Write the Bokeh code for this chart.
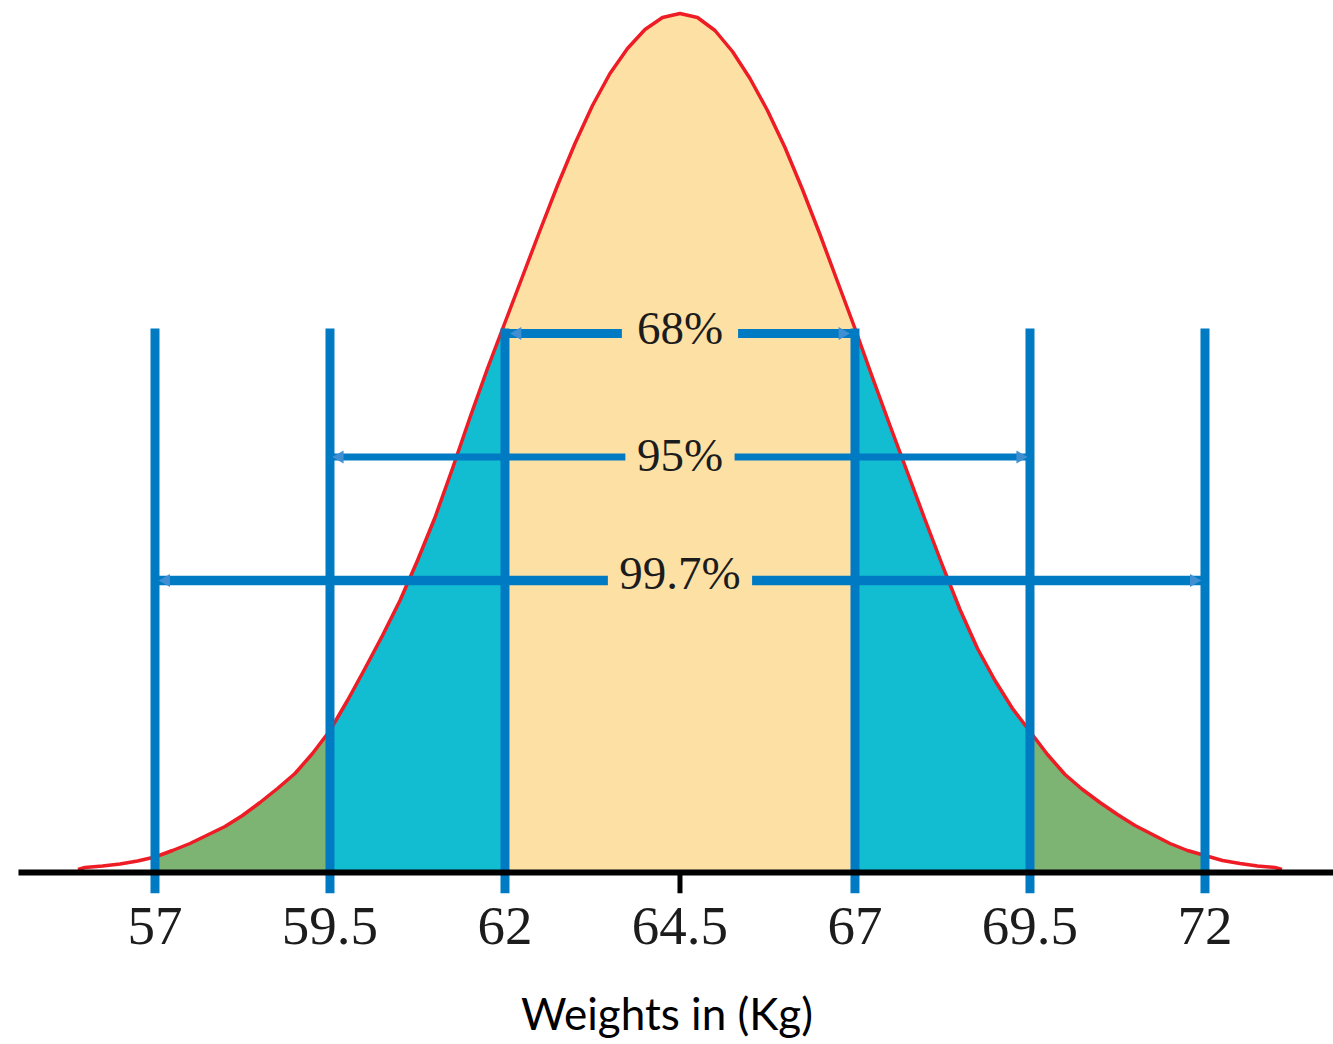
import numpy as np
from bokeh.plotting import figure
from bokeh.models import Range1d, FixedTicker
from bokeh.embed import file_html
from bokeh.resources import INLINE
from bokeh.core.properties import value

# ---------------- data ----------------
weight_kg = [55.9, 56.0, 56.25, 56.5, 56.75, 57.0, 57.25, 57.5, 57.75, 58.0, 58.25, 58.5, 58.75,
             59.0, 59.25, 59.5, 59.75, 60.0, 60.25, 60.5, 60.75, 61.0, 61.25, 61.5, 61.75,
             62.0, 62.25, 62.5, 62.75, 63.0, 63.25, 63.5, 63.75, 64.0, 64.25, 64.5,
             64.75, 65.0, 65.25, 65.5, 65.75, 66.0, 66.25, 66.5, 66.75, 67.0,
             67.25, 67.5, 67.75, 68.0, 68.25, 68.5, 68.75, 69.0, 69.25, 69.5, 69.75,
             70.0, 70.25, 70.5, 70.75, 71.0, 71.25, 71.5, 71.75, 72.0, 72.25, 72.5, 72.75,
             73.0, 73.1]
curve_height = [3, 5, 6.5, 8.5, 11.5, 15.5, 22, 29, 37.5, 46, 57, 70, 84,
                99, 119, 142, 172, 204, 237, 272, 312, 355, 404, 455, 504,
                550, 596, 642, 687, 729, 767, 799, 824, 843, 855, 859,
                855, 842, 821, 794, 762, 725, 683, 638, 591, 544,
                495, 447, 400, 353, 307, 263, 224, 192, 164, 141, 118,
                98, 83, 70, 58, 47, 38, 29, 22, 17, 12, 9, 6.5,
                5, 3]

sd_marks = [57, 59.5, 62, 67, 69.5, 72]
mean_weight = 64.5
tick_values = [57, 59.5, 62, 64.5, 67, 69.5, 72]
tick_labels = ["57", "59.5", "62", "64.5", "67", "69.5", "72"]

band_lo = [57, 59.5, 62, 67, 69.5]
band_hi = [59.5, 62, 67, 69.5, 72]
band_colors = ["#7DB474", "#13BDD1", "#FDE1A4", "#13BDD1", "#7DB474"]

interval_labels = ["68%", "95%", "99.7%"]
interval_lo = [62, 59.5, 57]
interval_hi = [67, 69.5, 72]

# ---------------- styling / layout constants ----------------
BLUE = "#007BC3"
RED = "#EE1C25"
arrow_level = [539, 415.5, 292]
arrow_width = [9, 7, 9.5]
label_gap = [0.83, 0.78, 1.03]
label_base = [545, 418, 300]
head_inset = [0.18, 0.14, 0.16]

p = figure(frame_width=1333, frame_height=893,
           x_range=Range1d(54.793, 73.836), y_range=Range1d(-21, 872),
           output_backend="svg", toolbar_location=None, y_axis_location=None,
           min_border=0, outline_line_color=None)
p.grid.visible = False
p.background_fill_color = "white"
p.border_fill_color = "white"

xs = np.array(weight_kg)
ys = np.array(curve_height)
for lo, hi, c in zip(band_lo, band_hi, band_colors):
    m = (xs >= lo - 1e-9) & (xs <= hi + 1e-9)
    p.varea(x=xs[m], y1=0, y2=ys[m], fill_color=c, fill_alpha=1.0)

p.line(weight_kg, curve_height, line_color=RED, line_width=3.5, line_join="round")

# vertical sd lines
p.segment(x0=sd_marks, y0=[-21] * len(sd_marks), x1=sd_marks, y1=[544] * len(sd_marks),
          line_color=BLUE, line_width=9)

# interval arrows
for i, lab in enumerate(interval_labels):
    lo, hi, yl = interval_lo[i], interval_hi[i], arrow_level[i]
    mid = (lo + hi) / 2
    p.segment(x0=[lo, mid + label_gap[i]], y0=[yl, yl],
              x1=[mid - label_gap[i], hi], y1=[yl, yl],
              line_color=BLUE, line_width=arrow_width[i])
    p.scatter(x=[lo + head_inset[i]], y=[yl], marker="triangle", size=13,
              angle=np.pi / 2, fill_color="#3F8FD2", line_color=None)
    p.scatter(x=[hi - head_inset[i]], y=[yl], marker="triangle", size=13,
              angle=-np.pi / 2, fill_color="#3F8FD2", line_color=None)
    p.text(x=[mid], y=[label_base[i]], text=[lab], text_font=value("Liberation Serif"),
           text_font_size="47px", text_align="center", text_baseline="alphabetic",
           text_color="#1c1c1c")

# baseline and centre tick
p.segment(x0=[55.05], y0=[0], x1=[73.9], y1=[0], line_color="black", line_width=6)
p.segment(x0=[mean_weight], y0=[-21], x1=[mean_weight], y1=[0], line_color="black", line_width=5)

ax = p.xaxis[0]
ax.ticker = FixedTicker(ticks=tick_values)
ax.major_label_overrides = {v: t for v, t in zip(tick_values, tick_labels)}
ax.axis_line_color = None
ax.major_tick_line_color = None
ax.minor_tick_line_color = None
ax.major_tick_in = 0
ax.major_tick_out = 0
ax.major_label_standoff = 14
ax.major_label_text_font = "Liberation Serif"
ax.major_label_text_font_size = "55px"
ax.major_label_text_color = "#1c1c1c"
ax.axis_label = "Weights in (Kg)"
ax.axis_label_text_font = "Lato"
ax.axis_label_text_font_size = "44px"
ax.axis_label_text_font_style = "normal"
ax.axis_label_text_color = "black"
ax.axis_label_standoff = 40

open("out.html", "w").write(file_html(p, INLINE))
